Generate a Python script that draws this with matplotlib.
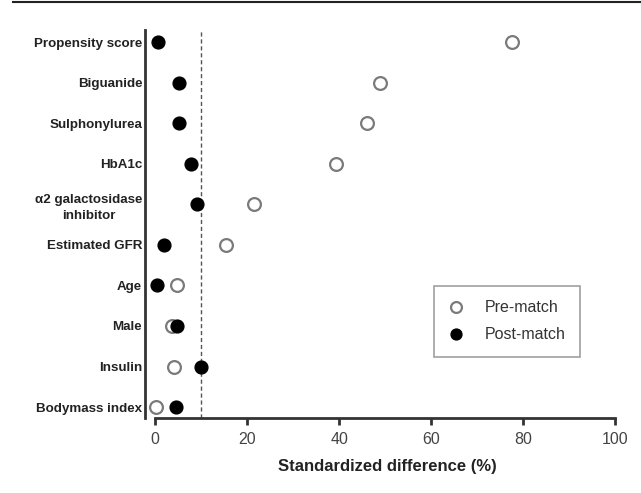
import matplotlib
matplotlib.use("Agg")
import matplotlib.pyplot as plt
from matplotlib.lines import Line2D

categories = ["Propensity score", "Biguanide", "Sulphonylurea", "HbA1c",
              "α2 galactosidase\ninhibitor", "Estimated GFR", "Age", "Male",
              "Insulin", "Bodymass index"]
pre_match = [77.5, 48.9, 46.0, 39.3, 21.5, 15.4, 4.7, 3.6, 4.1, 0.2]
post_match = [0.7, 5.3, 5.1, 7.7, 9.1, 2.0, 0.4, 4.7, 9.9, 4.6]
threshold = 10
xticks = [0, 20, 40, 60, 80, 100]

plt.rcParams['font.family'] = ['Liberation Sans', 'DejaVu Sans']

fig = plt.figure(figsize=(6.41, 4.93), dpi=100)
ax = fig.add_axes([145/641, 1-418/493, 470/641, 388/493])

ypos = list(range(len(categories)))
ax.axvline(threshold, color='#555555', lw=1.0, ls=(0, (3, 2)), zorder=1)
ax.plot(pre_match, ypos, 'o', ms=9.2, mfc='white', mec='#7a7a7a', mew=1.6,
        ls='none', label='Pre-match', zorder=3)
ax.plot(post_match, ypos, 'o', ms=9.2, mfc='black', mec='black', mew=1,
        ls='none', label='Post-match', zorder=4)

ax.set_xlim(-2.2, 100)
ax.set_ylim(9.27, -0.30)
ax.set_yticks(ypos)
ax.set_yticklabels(categories, fontsize=9.6, fontweight='bold', color='#222222',
                   multialignment='center', linespacing=1.45)
ax.tick_params(axis='y', length=0, pad=2)
ax.set_xticks(xticks)
ax.set_xticklabels([str(t) for t in xticks], fontsize=11.5, color='#444444')
ax.tick_params(axis='x', length=5, width=2, color='#333333', pad=5)

for s in ['top', 'right']:
    ax.spines[s].set_visible(False)
ax.spines['left'].set_linewidth(2)
ax.spines['left'].set_color('#333333')
ax.spines['bottom'].set_linewidth(2)
ax.spines['bottom'].set_color('#333333')
ax.spines['bottom'].set_bounds(0, 100)

ax.set_xlabel('Standardized difference (%)', fontsize=12, fontweight='bold',
              color='#222222')
ax.xaxis.set_label_coords((387-145)/470, -(466-418)/388)
ax.xaxis.label.set_va('center')

leg = ax.legend(loc='upper left', bbox_to_anchor=(0.615, 0.340), fontsize=11.5,
                frameon=True, fancybox=False, edgecolor='#888888',
                handletextpad=1.3, borderpad=0.9, labelspacing=0.75,
                handlelength=1.0, markerscale=0.85, borderaxespad=0)
leg.get_frame().set_linewidth(1.2)
for t in leg.get_texts():
    t.set_color('#333333')

fig.add_artist(Line2D([13/641, 1.0], [1-2/493, 1-2/493], transform=fig.transFigure,
                      color='#222222', lw=1.5))

fig.savefig('out.png', dpi=100)
